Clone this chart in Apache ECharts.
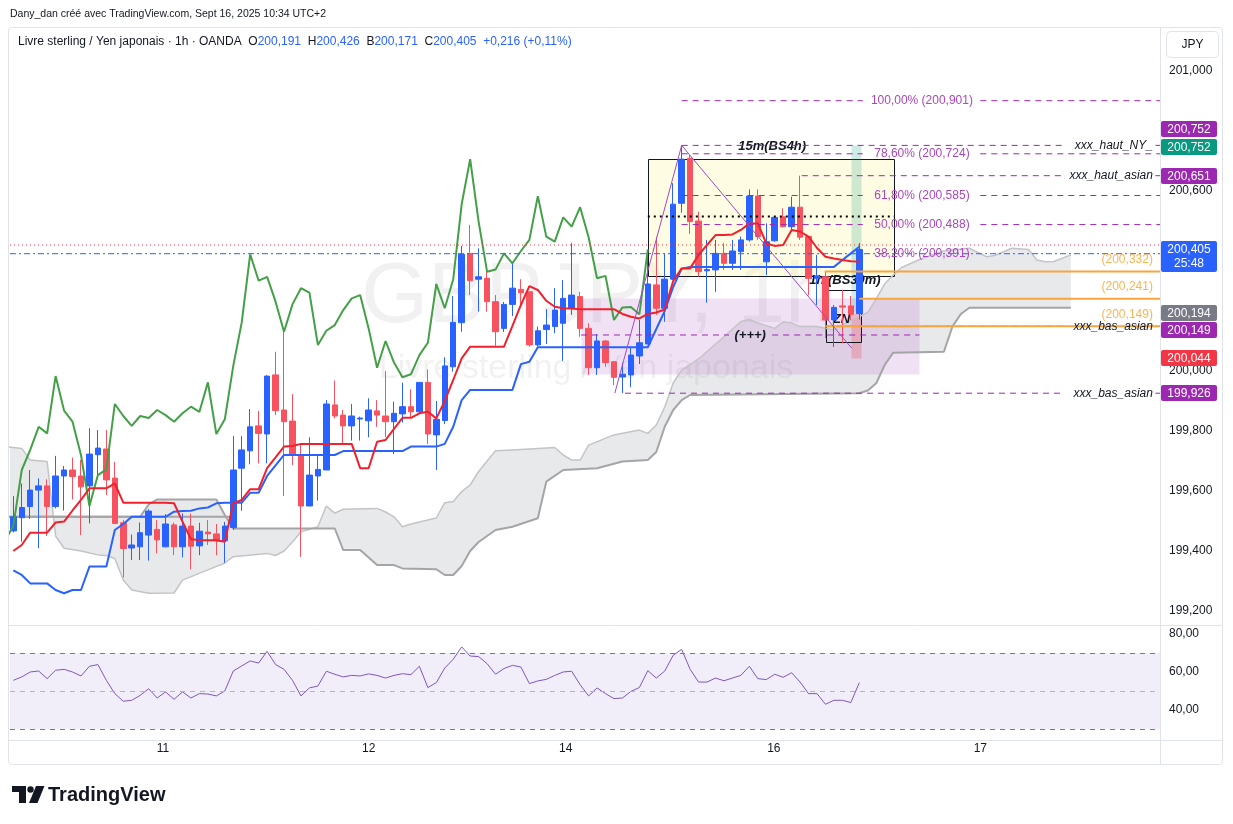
<!DOCTYPE html>
<html><head><meta charset="utf-8"><title>GBPJPY 1h</title>
<script src="https://cdn.jsdelivr.net/npm/echarts@6.0.0/dist/echarts.min.js"></script>
<style>html,body{margin:0;padding:0;background:#fff}#chart{width:1233px;height:824px}</style>
</head><body><div id="chart"></div>
<script>
// ---------------- DATA ----------------
const dayLabels = ['11', '12', '14', '16', '17'];
const dayPositions = [17.7, 42.0, 65.3, 89.9, 114.3];

const open = [
199.467,199.511,199.548,199.603,199.617,199.548,199.650,199.670,199.650,199.617,
199.721,199.740,199.643,199.494,199.410,199.414,199.453,199.472,199.414,199.487,
199.414,199.483,199.417,199.463,199.457,199.434,199.478,199.676,199.734,199.817,
199.790,199.987,199.870,199.833,199.720,199.550,199.650,199.670,199.887,199.853,
199.817,199.840,199.834,199.867,199.850,199.831,199.857,199.881,199.864,199.962,
199.787,199.835,200.014,200.161,200.392,200.306,200.309,200.231,200.142,200.222,
200.272,200.264,200.087,200.138,200.148,200.159,200.209,200.248,200.142,200.011,
200.100,200.031,199.980,199.987,200.050,200.090,200.287,200.209,200.306,200.559,
200.709,200.500,200.334,200.337,200.392,200.359,200.398,200.437,200.583,200.364,
200.434,200.514,200.481,200.546,200.448,200.309,200.314,200.170,200.217,200.217,
200.191];
const high = [
199.583,199.625,199.670,199.642,199.639,199.717,199.683,199.711,199.703,199.809,
199.803,199.803,199.697,199.503,199.455,199.495,199.539,199.503,199.523,199.495,
199.525,199.525,199.494,199.503,199.490,199.497,199.783,199.783,199.873,199.867,
199.986,200.064,200.133,199.923,199.753,199.779,199.720,199.903,199.968,199.870,
199.890,199.848,199.909,199.903,200.000,199.898,199.961,199.939,199.962,200.005,
199.900,200.046,200.250,200.417,200.487,200.409,200.348,200.253,200.230,200.364,
200.306,200.264,200.148,200.206,200.276,200.303,200.426,200.264,200.159,200.123,
200.103,200.031,200.028,200.081,200.170,200.403,200.448,200.392,200.626,200.752,
200.720,200.531,200.437,200.437,200.426,200.437,200.448,200.605,200.605,200.492,
200.512,200.542,200.581,200.651,200.448,200.387,200.330,200.220,200.270,200.250,
200.426];
const low = [
199.462,199.431,199.507,199.409,199.450,199.542,199.535,199.572,199.453,199.492,
199.639,199.586,199.490,199.312,199.370,199.370,199.368,199.392,199.412,199.386,
199.379,199.339,199.386,199.420,199.386,199.361,199.470,199.534,199.689,199.692,
199.692,199.853,199.583,199.687,199.381,199.550,199.568,199.670,199.842,199.753,
199.768,199.768,199.779,199.814,199.779,199.723,199.828,199.842,199.860,199.757,
199.670,199.823,199.998,200.131,200.253,200.198,200.198,200.084,200.130,200.183,
200.214,200.081,200.081,200.090,200.126,200.034,200.187,200.114,199.987,199.987,
200.014,199.953,199.926,199.946,200.023,200.090,200.187,200.164,200.303,200.528,
200.457,200.314,200.228,200.264,200.337,200.337,200.337,200.431,200.437,200.320,
200.431,200.479,200.464,200.437,200.253,200.220,200.110,200.080,200.092,200.170,
200.171];
const close = [
199.514,199.545,199.603,199.617,199.548,199.650,199.670,199.648,199.614,199.723,
199.743,199.637,199.492,199.408,199.420,199.461,199.533,199.437,199.490,199.414,
199.483,199.416,199.466,199.457,199.434,199.483,199.670,199.737,199.814,199.792,
199.983,199.868,199.831,199.720,199.550,199.653,199.672,199.890,199.850,199.817,
199.850,199.843,199.870,199.853,199.831,199.859,199.881,199.864,199.962,199.790,
199.839,200.017,200.162,200.389,200.301,200.314,200.231,200.131,200.222,200.276,
200.261,200.087,200.134,200.153,200.203,200.242,200.253,200.142,200.011,200.100,
200.028,199.979,199.989,200.053,200.094,200.290,200.209,200.306,200.556,200.706,
200.498,200.331,200.338,200.392,200.359,200.400,200.437,200.583,200.448,200.431,
200.512,200.481,200.546,200.446,200.309,200.317,200.170,200.212,200.213,200.189,
200.405];

// Ichimoku conversion (red) and base (blue) lines, one value per bar
const tenkan = [
199.400,199.420,199.461,199.461,199.461,199.495,199.498,199.535,199.570,199.609,
199.609,199.609,199.625,199.561,199.561,199.561,199.561,199.561,199.561,199.559,
199.498,199.439,199.437,199.436,199.436,199.431,199.559,199.570,199.606,199.606,
199.676,199.712,199.748,199.750,199.757,199.757,199.757,199.757,199.757,199.757,
199.757,199.676,199.676,199.764,199.770,199.807,199.844,199.844,199.859,199.864,
199.842,199.900,199.970,200.042,200.081,200.081,200.081,200.081,200.081,200.150,
200.220,200.283,200.270,200.234,200.214,200.209,200.208,200.206,200.206,200.206,
200.206,200.206,200.190,200.181,200.175,200.190,200.195,200.205,200.300,200.342,
200.342,200.387,200.420,200.453,200.453,200.455,200.470,200.492,200.492,200.426,
200.417,200.420,200.470,200.465,200.448,200.410,200.381,200.375,200.370,200.366,
200.365];
const kijun = [
199.335,199.320,199.292,199.292,199.292,199.270,199.259,199.270,199.270,199.348,
199.348,199.348,199.470,199.490,199.514,199.514,199.514,199.514,199.514,199.531,
199.533,199.534,199.542,199.545,199.559,199.561,199.561,199.561,199.594,199.594,
199.650,199.685,199.720,199.720,199.720,199.720,199.720,199.720,199.720,199.733,
199.733,199.733,199.733,199.733,199.733,199.733,199.733,199.748,199.748,199.748,
199.748,199.757,199.814,199.903,199.937,199.937,199.937,199.937,199.937,199.937,
200.023,200.031,200.079,200.079,200.079,200.079,200.079,200.079,200.079,200.079,
200.079,200.079,200.079,200.079,200.079,200.079,200.140,200.200,200.280,200.341,
200.347,200.347,200.347,200.347,200.347,200.347,200.347,200.347,200.347,200.347,
200.347,200.347,200.347,200.347,200.347,200.347,200.347,200.347,200.370,200.392,
200.414];

// Cloud edges (bar index, price), projected into the future
const spanA = [[-1,199.748],[1,199.742],[2,199.703],[4,199.698],[5,199.45],[6,199.409],[8,199.40],[10,199.387],[11,199.385],[12,199.375],[13,199.303],[14,199.27],[16,199.259],[19,199.26],[20,199.303],[23,199.337],[25,199.36],[26,199.381],[30,199.392],[31,199.385],[32,199.40],[33,199.43],[34,199.464],[36,199.481],[37,199.55],[38,199.526],[39,199.539],[43,199.542],[44,199.53],[45,199.514],[46,199.481],[47,199.49],[49,199.503],[50,199.51],[51,199.561],[52,199.565],[53,199.598],[54,199.62],[55,199.665],[57,199.734],[59,199.737],[64,199.745],[65,199.72],[66,199.703],[67,199.703],[68,199.753],[71,199.787],[74,199.803],[75,199.792],[76,199.82],[77,199.88],[78,199.96],[79,200.003],[81,200.04],[83,200.09],[84,200.114],[86,200.165],[87,200.172],[88,200.16],[90,200.142],[91,200.164],[92,200.16],[93,200.148],[95,200.148],[97,200.137],[99,200.17],[100,200.181],[101,200.195],[102,200.24],[103,200.29],[104,200.32],[105,200.345],[107,200.37],[108,200.381],[110,200.40],[113,200.409],[115,200.381],[116,200.385],[118,200.409],[120,200.405],[121,200.37],[122,200.364],[123,200.365],[125,200.387]];
const spanB = [[-1,199.514],[15,199.514],[16,199.555],[17,199.572],[24,199.572],[25,199.52],[26,199.475],[38,199.475],[39,199.403],[41,199.403],[43,199.353],[45,199.353],[46,199.342],[50,199.339],[51,199.32],[52,199.32],[53,199.35],[54,199.40],[55,199.43],[57,199.47],[59,199.481],[62,199.509],[63,199.631],[65,199.67],[69,199.676],[72,199.698],[75,199.703],[76,199.73],[77,199.814],[78,199.87],[79,199.903],[80,199.92],[100,199.926],[101,199.935],[102,199.959],[103,200.02],[104,200.061],[110,200.064],[111,200.148],[112,200.19],[113,200.211],[125,200.211]];
const flatLine = [[-1,199.514],[25.6,199.514]];

// RSI, one value per bar
const rsi = [
55.6,57.4,60.0,60.5,56.5,60.9,61.4,60.0,57.9,63.0,
63.9,55.6,48.6,44.6,45.1,47.7,51.2,46.3,49.5,45.6,
49.5,46.3,48.6,48.4,47.4,50.0,60.5,63.2,65.8,64.7,
70.9,63.9,61.4,55.6,47.4,51.6,52.6,60.4,58.8,57.4,
58.2,57.9,59.0,58.2,56.8,58.2,59.1,58.6,63.0,51.8,
54.4,62.1,66.7,73.2,68.4,68.1,64.4,58.8,61.8,63.5,
62.6,53.9,55.3,56.1,58.2,60.0,60.4,53.3,47.4,51.6,
48.6,46.0,46.3,49.8,51.8,60.7,56.8,60.5,68.8,71.9,
61.4,54.7,54.7,56.8,55.4,56.8,58.2,63.0,56.5,56.0,
58.8,57.2,59.6,54.7,48.6,48.6,43.0,45.1,45.1,43.9,
54.4];

const priceTicks = [199.2, 199.4, 199.6, 199.8, 200.0, 200.6, 201.0];
const rsiTicks = [40, 60, 80];
const rsiBands = [30, 50, 70];

// Drawings (bar index / price anchors)
const fibNames = ['100,00%', '78,60%', '61,80%', '50,00%', '38,20%'];
const fibValues = [200.901, 200.724, 200.585, 200.488, 200.391];
const keyNames = ['xxx_haut_NY_', 'xxx_haut_asian', 'xxx_bas_asian', 'xxx_bas_asian'];
const keyValues = [200.752, 200.651, 200.149, 199.926];
const keyStarts = [79.0, 93.2, 96.0, 72.3];
const orangeValues = [200.332, 200.241, 200.149];
const orangeStarts = [95.9, 100.0, 96.0];
const redDotted = 200.42;
const boxMid = 200.515;
const plusLevel = 200.12;
const zigzag = [[71.1, 199.926], [79.0, 200.752], [99.1, 200.076]];
const zoneRects = [
  [67.1, 199.99, 107.1, 200.243],
  [75.0, 200.317, 104.1, 200.707],
  [99.0, 200.194, 100.2, 200.752],
  [99.0, 200.044, 100.2, 200.194],
  [96.1, 200.097, 100.2, 200.27]
];
const noteTexts = ['15m(BS4h)', '1h (BS30m)', 'ZN', '(+++)'];
const noteAnchors = [[89.7, 200.747], [98.3, 200.303], [97.9, 200.173], [87.1, 200.12]];
const tagValues = [200.752, 200.752, 200.651, 200.405, 200.194, 200.149, 200.044, 199.926];
const countdown = '25:48';

// ---------------- STYLE / LAYOUT ----------------
const FONT = '"Liberation Sans", Arial, sans-serif';
const INK = '#131722';
const X_MIN = -0.39, X_MAX = 135.54;
const Y_MIN = 199.1533, Y_MAX = 201.1433;
const PURPLE = '#9c27b0';
const zoneFills = ['rgba(186,104,200,0.2)', 'rgba(255,245,157,0.28)', 'rgba(8,153,129,0.2)', 'rgba(242,54,69,0.25)', 'rgba(0,0,0,0)'];
const zoneStrokes = [null, '#131722', null, null, '#131722'];
const tagColors = ['#9c27b0', '#089981', '#9c27b0', '#2962ff', '#787b86', '#9c27b0', '#f23645', '#9c27b0'];
const tagShift = [-16, 2, 0, 0, 0, 4, 0, 0];
const fmt3 = v => v.toFixed(3).replace('.', ',');

function seg(data, color, width, type, z) {
  return { type: 'line', xAxisIndex: 0, yAxisIndex: 0, data: data, symbol: 'none', showSymbol: false,
    silent: true, z: z || 5, animation: false, lineStyle: { color: color, width: width, type: type || 'solid' } };
}
function textSeries(items, z) {
  return { type: 'custom', xAxisIndex: 0, yAxisIndex: 0, z: z, silent: true, clip: false, animation: false,
    data: items.map(it => [it.x, it.y]),
    renderItem: (params, api) => {
      const it = items[params.dataIndex];
      const p = api.coord([it.x, it.y]);
      return { type: 'text', x: p[0], y: p[1] + (it.dy || 0),
        style: Object.assign({ text: it.text, fill: INK, font: '12px ' + FONT, align: 'center', verticalAlign: 'middle' }, it.style || {}) };
    } };
}

const series = [];

// cloud fill
series.push({ type: 'custom', xAxisIndex: 0, yAxisIndex: 0, z: 1, silent: true, clip: true, animation: false,
  data: [[50, 200]],
  renderItem: (params, api) => {
    const pts = spanA.map(p => api.coord(p)).concat(spanB.slice().reverse().map(p => api.coord(p)));
    return { type: 'polygon', shape: { points: pts }, style: { fill: 'rgba(120,123,134,0.17)' } };
  } });
// zones / boxes
series.push({ type: 'custom', xAxisIndex: 0, yAxisIndex: 0, z: 1.5, silent: true, clip: true, animation: false,
  data: zoneRects,
  renderItem: (params, api) => {
    const r = zoneRects[params.dataIndex];
    const a = api.coord([r[0], r[3]]), b = api.coord([r[2], r[1]]);
    const st = { fill: zoneFills[params.dataIndex] };
    if (zoneStrokes[params.dataIndex]) { st.stroke = zoneStrokes[params.dataIndex]; st.lineWidth = 1; }
    return { type: 'rect', shape: { x: Math.round(a[0]) + 0.5, y: Math.round(a[1]) + 0.5, width: Math.round(b[0] - a[0]), height: Math.round(b[1] - a[1]) }, style: st };
  } });
// cloud edges
series.push(seg(spanA, '#c4c4c8', 1.5, 'solid', 2));
series.push(seg(spanB, '#a5a5a8', 2, 'solid', 2));
series.push(seg(flatLine, '#a5a5a8', 2, 'solid', 2));

// notes below candles
series.push(textSeries(noteTexts.map((t, k) => ({ x: noteAnchors[k][0], y: noteAnchors[k][1], text: t,
  style: { font: 'italic bold 13px ' + FONT } })), 2.5));

// candles
series.push({ type: 'candlestick', xAxisIndex: 0, yAxisIndex: 0, z: 3, animation: false, barWidth: 6,
  dimensions: ['i', 'open', 'close', 'low', 'high'],
  encode: { x: 0, y: [1, 2, 3, 4] },
  data: open.map((o, i) => [i, o, close[i], low[i], high[i]]),
  itemStyle: { color: '#2962ff', color0: '#f7525f', borderColor: '#2962ff', borderColor0: '#f7525f', borderWidth: 1 } });

// Ichimoku lines
series.push(seg(close.slice(24).map((v, k) => [k - 1, v]), '#43a047', 2, 'solid', 4));
series.push(seg(kijun.map((v, i) => [i, v]), '#2962ff', 2, 'solid', 4));
series.push(seg(tenkan.map((v, i) => [i, v]), '#f0202c', 2, 'solid', 4));

// horizontal drawings
series.push(seg([[X_MIN, redDotted], [X_MAX, redDotted]], '#f23645', 1, [1, 3], 5));
series.push(seg([[X_MIN, fibValues[4]], [X_MAX, fibValues[4]]], '#2962ff', 1, [6, 3, 2, 3], 5));
for (let k = 0; k < 4; k++) {
  series.push(seg([[79.0, fibValues[k]], [100.4, fibValues[k]]], PURPLE, 1, [6, 5], 5));
  series.push(seg([[114.3, fibValues[k]], [X_MAX, fibValues[k]]], PURPLE, 1, [6, 5], 5));
}
keyValues.forEach((v, k) => {
  series.push(seg([[keyStarts[k], v], [124.3, v]], PURPLE, 1, [6, 5], 5));
  series.push(seg([[135.0, v], [X_MAX, v]], PURPLE, 1, [6, 5], 5));
});
orangeValues.forEach((v, k) => series.push(seg([[orangeStarts[k], v], [X_MAX, v]], '#f7a53c', 2, 'solid', 5)));
series.push(seg([[67.1, plusLevel], [84.6, plusLevel]], PURPLE, 1, [6, 5], 5));
series.push(seg([[89.7, plusLevel], [107.1, plusLevel]], PURPLE, 1, [6, 5], 5));
series.push(seg([[75.0, boxMid], [104.1, boxMid]], '#000000', 2, [2, 4], 5));
series.push(seg(zigzag, '#a24bc0', 1, 'solid', 5));

// labels of drawings
series.push(textSeries(fibNames.map((n, k) => ({ x: 107.4, y: fibValues[k], text: n + ' (' + fmt3(fibValues[k]) + ')',
  style: { fill: '#ab47bc', font: '12px ' + FONT } })), 6));
series.push(textSeries(keyNames.map((n, k) => ({ x: 134.7, y: keyValues[k], text: n,
  style: { font: 'italic 12px ' + FONT, align: 'right' } })), 6));
series.push(textSeries(orangeValues.map(v => ({ x: 134.7, y: v, dy: -12, text: '(' + fmt3(v) + ')',
  style: { fill: '#f9b552', font: '12px ' + FONT, align: 'right' } })), 6));

// price tags on the right axis
series.push({ type: 'custom', xAxisIndex: 0, yAxisIndex: 0, z: 10, silent: true, clip: false, animation: false,
  data: tagValues.map(v => [0, v]),
  renderItem: (params, api) => {
    const k = params.dataIndex, v = tagValues[k];
    const y = Math.round(api.coord([0, v])[1] + tagShift[k]);
    const two = tagColors[k] === '#2962ff';
    const ch = [{ type: 'rect', shape: { x: 1161, y: y - 8, width: 56, height: two ? 31 : 16, r: 2 }, style: { fill: tagColors[k] } },
      { type: 'text', x: 1189, y: y + 0.5, style: { text: fmt3(v), fill: '#ffffff', font: '12px ' + FONT, align: 'center', verticalAlign: 'middle' } }];
    if (two) ch.push({ type: 'text', x: 1189, y: y + 14.5, style: { text: countdown, fill: '#ffffff', font: '12px ' + FONT, align: 'center', verticalAlign: 'middle' } });
    return { type: 'group', children: ch };
  } });

// RSI
series.push({ type: 'line', xAxisIndex: 1, yAxisIndex: 1, data: rsi.map((v, i) => [i, v]), symbol: 'none', showSymbol: false,
  silent: true, animation: false, z: 4, lineStyle: { color: '#7e57c2', width: 1 },
  markArea: { silent: true, itemStyle: { color: 'rgba(126,87,194,0.1)' }, data: [[{ yAxis: rsiBands[0] }, { yAxis: rsiBands[2] }]] },
  markLine: { silent: true, symbol: 'none', label: { show: false }, animation: false,
    data: rsiBands.map((b, k) => ({ yAxis: b, lineStyle: { color: k === 1 ? '#b2b5be' : '#787b86', type: [5, 5], width: 1 } })) } });

const last = open.length - 1;
const chg = close[last] - close[last - 1];
const pct = chg / close[last - 1] * 100;
const sgn = chg >= 0 ? '+' : '-';
const legendText = '{t|Livre sterling / Yen japonais · 1h · OANDA}  {t|O}{v|' + fmt3(open[last]) + '}  {t|H}{v|' + fmt3(high[last]) +
  '}  {t|B}{v|' + fmt3(low[last]) + '}  {t|C}{v|' + fmt3(close[last]) + '}  {v|' + sgn + fmt3(Math.abs(chg)) + ' (' + sgn + Math.abs(pct).toFixed(2).replace('.', ',') + '%)}';

const option = {
  animation: false,
  backgroundColor: '#ffffff',
  textStyle: { fontFamily: FONT },
  grid: [
    { left: 10, right: 73, top: 28, height: 597 },
    { left: 10, right: 73, top: 626, height: 114 }
  ],
  xAxis: [
    { type: 'value', gridIndex: 0, min: X_MIN, max: X_MAX, show: false },
    { type: 'value', gridIndex: 1, min: X_MIN, max: X_MAX,
      axisLine: { show: false }, axisTick: { show: false }, splitLine: { show: false },
      axisLabel: { customValues: dayPositions, color: INK, fontSize: 12, margin: 3, fontFamily: FONT,
        formatter: v => { let best = 0; dayPositions.forEach((d, k) => { if (Math.abs(d - v) < Math.abs(dayPositions[best] - v)) best = k; }); return dayLabels[best]; } } }
  ],
  yAxis: [
    { type: 'value', gridIndex: 0, position: 'right', min: Y_MIN, max: Y_MAX, scale: true,
      axisLine: { show: false }, axisTick: { show: false }, splitLine: { show: false },
      axisLabel: { customValues: priceTicks, formatter: v => fmt3(v), color: INK, fontSize: 12, margin: 9, fontFamily: FONT } },
    { type: 'value', gridIndex: 1, position: 'right', min: 24.2, max: 84.2,
      axisLine: { show: false }, axisTick: { show: false }, splitLine: { show: false },
      axisLabel: { customValues: rsiTicks, formatter: v => v.toFixed(2).replace('.', ','), color: INK, fontSize: 12, margin: 9, fontFamily: FONT } }
  ],
  graphic: [
    { type: 'text', z: 0, x: 597, y: 298, silent: true, style: { text: 'GBPJPY, 1h', font: '86px ' + FONT, fill: 'rgba(19,23,34,0.06)', align: 'center', verticalAlign: 'middle' } },
    { type: 'text', z: 0, x: 586, y: 369, silent: true, style: { text: 'Livre sterling / Yen japonais', font: '34px ' + FONT, fill: 'rgba(19,23,34,0.06)', align: 'center', verticalAlign: 'middle' } },
    { type: 'text', z: 20, x: 10, y: 14, silent: true, style: { text: 'Dany_dan créé avec TradingView.com, Sept 16, 2025 10:34 UTC+2', font: '10.5px ' + FONT, fill: INK, verticalAlign: 'middle' } },
    { type: 'rect', z: 20, silent: true, shape: { x: 8.5, y: 27.5, width: 1214, height: 737, r: 3 }, style: { fill: 'none', stroke: '#e0e3eb', lineWidth: 1 } },
    { type: 'line', z: 20, silent: true, shape: { x1: 9, y1: 625.5, x2: 1222, y2: 625.5 }, style: { stroke: '#e0e3eb', lineWidth: 1 } },
    { type: 'line', z: 20, silent: true, shape: { x1: 9, y1: 740.5, x2: 1222, y2: 740.5 }, style: { stroke: '#e0e3eb', lineWidth: 1 } },
    { type: 'line', z: 20, silent: true, shape: { x1: 1160.5, y1: 28, x2: 1160.5, y2: 764 }, style: { stroke: '#e0e3eb', lineWidth: 1 } },
    { type: 'text', z: 20, x: 18, y: 42, silent: true, style: { text: legendText, font: '12px ' + FONT, fill: INK, verticalAlign: 'middle',
      rich: { t: { fill: INK, font: '12px ' + FONT }, v: { fill: '#2962ff', font: '12px ' + FONT } } } },
    { type: 'rect', z: 20, silent: true, shape: { x: 1166.5, y: 31.5, width: 52, height: 26, r: 4 }, style: { fill: '#fff', stroke: '#e0e3eb', lineWidth: 1 } },
    { type: 'text', z: 21, x: 1192.5, y: 44.5, silent: true, style: { text: 'JPY', font: '12px ' + FONT, fill: INK, align: 'center', verticalAlign: 'middle' } },
    { type: 'polygon', z: 20, silent: true, shape: { points: [[12, 786], [26, 786], [26, 803], [19, 803], [19, 792], [12, 792]] }, style: { fill: INK } },
    { type: 'circle', z: 20, silent: true, shape: { cx: 30.5, cy: 789.5, r: 3.2 }, style: { fill: INK } },
    { type: 'polygon', z: 20, silent: true, shape: { points: [[36, 786], [44.5, 786], [37.5, 803], [29, 803]] }, style: { fill: INK } },
    { type: 'text', z: 20, x: 48, y: 795, silent: true, style: { text: 'TradingView', font: 'bold 20px ' + FONT, fill: INK, verticalAlign: 'middle' } }
  ],
  series: series
};

const chart = echarts.init(document.getElementById('chart'), null, { renderer: 'canvas' });
chart.setOption(option);
</script></body></html>
